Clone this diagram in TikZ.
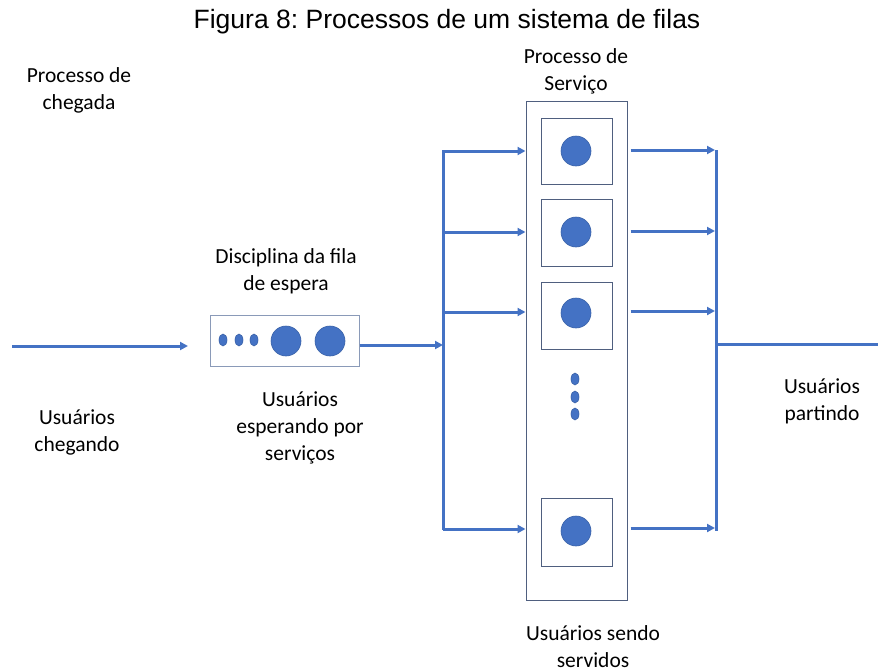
\documentclass[tikz,border=0pt]{standalone}
\usepackage{fontspec}
\setmainfont{Carlito}
\newfontfamily\titlefont{Liberation Sans}
\usetikzlibrary{arrows.meta}
\definecolor{lineblue}{HTML}{4472C4}
\definecolor{circedge}{HTML}{3A62A8}
\definecolor{boxedge}{HTML}{4F5F7F}
\definecolor{qedge}{HTML}{8A9AB8}
\frenchspacing
\begin{document}
\begin{tikzpicture}[x=1pt,y=-1pt,
  flow/.style={draw=lineblue,line width=3pt},
  arr/.style={flow,-{Triangle[length=8pt,width=8pt]}},
  frame/.style={draw=boxedge,line width=1pt},
  dot/.style={fill=lineblue,draw=circedge,line width=0.6pt},
  lbl/.style={align=center,font=\fontsize{21.5}{27}\selectfont,inner sep=0pt}
]
\useasboundingbox (0,0) rectangle (878,667);
% title
\node[inner sep=0pt,font=\titlefont\fontsize{26.5}{30}\selectfont] (title) at (447,22) {Figura 8: Processos de um sistema de filas};
% labels
\node[lbl] (lchegada) at (79,90) {Processo de\\chegada};
\node[lbl] (lchegando) at (77,432) {Usuários\\chegando};
\node[lbl] (ldisc) at (286,271) {Disciplina da fila\\de espera};
\node[lbl] (lesper) at (300,428) {Usuários\\esperando por\\serviços};
\node[lbl] (lserv) at (576,71) {Processo de\\Serviço};
\node[lbl] (lpart) at (822,401) {Usuários\\partindo};
\node[lbl] (lsendo) at (593,647) {Usuários sendo\\servidos};
% input arrow
\coordinate (in0) at (12,346);
\coordinate (in1) at (188,346);
\draw[arr] (in0) -- (in1);
% queue box
\node[draw=qedge,line width=1pt,minimum width=149pt,minimum height=51pt,inner sep=0pt] (queue) at (284.5,340.5) {};
\foreach \x in {223,239,254}
  \draw[dot] (\x,340) ellipse (4pt and 6pt);
\draw[dot] (286,341) circle (15pt);
\draw[dot] (330,341) circle (15pt);
% split line
\coordinate (sTop) at (443,150);
\coordinate (sBot) at (443,530);
\draw[flow] (sTop) -- (sBot);
\coordinate (sMid) at (443,345);
\draw[arr] (queue.east |- sMid) -- (sMid);
% service outer box
\node[frame,minimum width=101pt,minimum height=499pt,inner sep=0pt] (outer) at (576.5,350.5) {};
% servers
\foreach \n/\yt/\yb/\cy in {s1/118/184/151, s2/199/266/232, s3/282/349/313, s4/498/566/531}{
  \node[frame,minimum width=71pt,minimum height=\yb-\yt,inner sep=0pt] (\n) at (576.5,{(\yt+\yb)/2}) {};
  \draw[dot] (576,\cy) circle (15pt);
}
% vertical dots
\foreach \y in {379,397,414}
  \draw[dot] (575,\y) ellipse (4pt and 6pt);
% branch arrows in
\foreach \y in {151,232,312,529}{
  \draw[arr] (443,\y) -- (outer.west |- 0,\y);
}
% merge line
\coordinate (mTop) at (716,150);
\coordinate (mBot) at (716,531);
\draw[flow] (mTop) -- (mBot);
% branch arrows out
\foreach \y in {150,231,311,528}{
  \draw[arr] ([xshift=3pt]outer.east |- 0,\y) -- (715,\y);
}
% output line
\coordinate (out1) at (878,344);
\draw[flow] (716,344) -- (out1);
\end{tikzpicture}
\end{document}
